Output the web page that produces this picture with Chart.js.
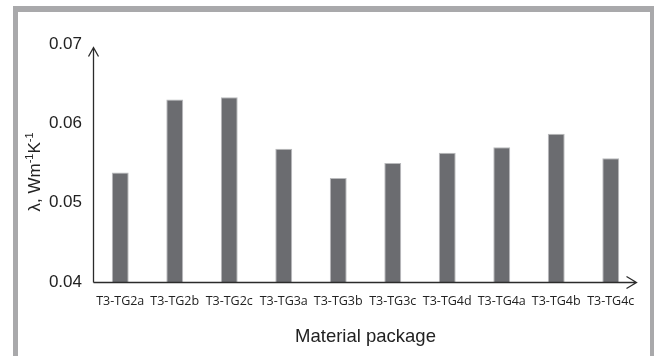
<!DOCTYPE html>
<html>
<head>
<meta charset="utf-8">
<script src="https://cdn.jsdelivr.net/npm/chart.js@4/dist/chart.umd.min.js"></script>
<style>
  html, body { margin: 0; padding: 0; background: #fff; }
  #wrap { width: 654px; height: 356px; position: relative; }
</style>
</head>
<body>
<div id="wrap"><canvas id="barChart" width="654" height="356"></canvas></div>
<script>
// thermal conductivity per material package
var packages = ['T3-TG2a', 'T3-TG2b', 'T3-TG2c', 'T3-TG3a', 'T3-TG3b',
                'T3-TG3c', 'T3-TG4d', 'T3-TG4a', 'T3-TG4b', 'T3-TG4c'];
var lambdaValues = [0.0538, 0.0630, 0.0633, 0.0568, 0.0531,
                    0.0550, 0.0563, 0.0570, 0.0587, 0.0556];
var yTicks = [0.04, 0.05, 0.06, 0.07];

var xTitle = 'Material package';

// frame, arrowed axes and the y title with superscripts
var decor = {
    id: 'decor',
    beforeDraw: function (chart) {
        var c = chart.ctx;
        c.save();
        c.fillStyle = '#a9a9ab';
        c.fillRect(13, 6, 641, 6);
        c.fillRect(13, 6, 5, 350);
        c.fillRect(650, 6, 4, 350);
        c.restore();
    },
    afterDatasetsDraw: function (chart) {
        var c = chart.ctx;
        var a = chart.chartArea;
        var x0 = Math.round(a.left) + 0.5;
        var y0 = Math.round(a.bottom) + 0.5;
        var yTop = a.top + 3.5;
        var xEnd = a.right - 1.5;
        c.save();
        c.strokeStyle = '#2b2b2b';
        c.lineWidth = 1.3;
        c.beginPath();
        c.moveTo(x0, y0);
        c.lineTo(x0, yTop);
        c.moveTo(x0 - 5, yTop + 9);
        c.lineTo(x0, yTop);
        c.lineTo(x0 + 5, yTop + 9);
        c.moveTo(x0, y0);
        c.lineTo(xEnd, y0);
        c.moveTo(xEnd - 10, y0 - 6);
        c.lineTo(xEnd, y0);
        c.lineTo(xEnd - 10, y0 + 6);
        c.stroke();

        // x title
        c.fillStyle = '#222';
        c.font = '18.5px "Liberation Sans", Arial, sans-serif';
        c.textAlign = 'center';
        c.textBaseline = 'middle';
        c.fillText(xTitle, (a.left + a.right) / 2, 337);

        // y title: λ, Wm-1K-1 rotated
        var parts = [['λ, Wm', false], ['-1', true], ['K', false], ['-1', true]];
        var big = '17px "Liberation Sans", Arial, sans-serif';
        var small = '11px "Liberation Sans", Arial, sans-serif';
        var total = 0;
        parts.forEach(function (p) {
            c.font = p[1] ? small : big;
            total += c.measureText(p[0]).width;
        });
        c.translate(34, 172);
        c.rotate(-Math.PI / 2);
        c.textAlign = 'left';
        c.textBaseline = 'alphabetic';
        var x = -total / 2;
        parts.forEach(function (p) {
            c.font = p[1] ? small : big;
            c.fillText(p[0], x, p[1] ? -1 : 6);
            x += c.measureText(p[0]).width;
        });
        c.restore();
    }
};

var ctx = document.getElementById('barChart').getContext('2d');
var myChart = new Chart(ctx, {
    type: 'bar',
    data: {
        labels: packages,
        datasets: [{
            data: lambdaValues,
            backgroundColor: '#6b6c70',
            borderColor: '#b9babc',
            borderWidth: { top: 1, left: 1, right: 1, bottom: 0 },
            barPercentage: 0.31,
            categoryPercentage: 1
        }]
    },
    options: {
        responsive: false,
        animation: false,
        devicePixelRatio: 1,
        layout: { padding: { top: 44, right: 16, bottom: 0, left: 0 } },
        plugins: {
            legend: { display: false },
            tooltip: { enabled: false }
        },
        scales: {
            x: {
                grid: { display: false, drawTicks: false },
                border: { display: false },
                ticks: {
                    color: '#222',
                    padding: 12,
                    maxRotation: 0,
                    autoSkip: false,
                    font: { family: '"Open Sans", sans-serif', size: 12.5 }
                },
                afterFit: function (scale) { scale.height = 74; }
            },
            y: {
                min: 0.04,
                max: 0.07,
                grid: { display: false, drawTicks: false },
                border: { display: false },
                afterBuildTicks: function (scale) {
                    scale.ticks = yTicks.map(function (v) { return { value: v }; });
                },
                ticks: {
                    color: '#222',
                    padding: 11,
                    font: { family: '"Liberation Sans", Arial, sans-serif', size: 17 },
                    callback: function (v) { return Number(v).toFixed(2); }
                },
                afterFit: function (scale) { scale.width = 93; }
            }
        }
    },
    plugins: [decor]
});
</script>
</body>
</html>
